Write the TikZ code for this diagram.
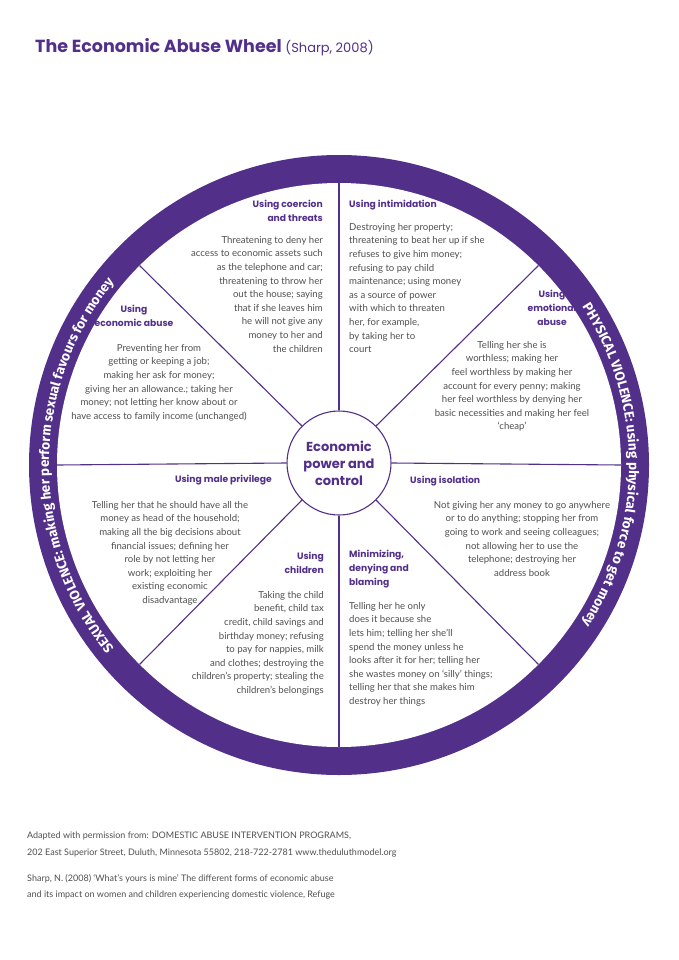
\documentclass[tikz,border=0pt]{standalone}
\usepackage{fontspec}
\setmainfont{Lato}
\newfontfamily\headf{Poppins}
\newfontfamily\ringf{Fira Sans}
\usetikzlibrary{decorations.text,calc}
\definecolor{wpurple}{HTML}{52308A}
\definecolor{wgray}{HTML}{505050}
\begin{document}
\begin{tikzpicture}[x=1pt,y=1pt,
  body/.style={text=wgray,font=\fontsize{9.6}{13.6}\selectfont,inner sep=0pt},
  head/.style={text=wpurple,font=\headf\bfseries\fontsize{9.2}{14}\selectfont,inner sep=0pt},
  spoke/.style={draw=wpurple,line width=1.1pt},
  ringtext/.style={decorate,
    decoration={text along path,text align=center,text color=white,
      text={|\ringf\bfseries\fontsize{13.5}{13.5}\selectfont|#1}}}]
\useasboundingbox (0,0) rectangle (678,-960);
\fill[white] (0,0) rectangle (678,-960);
% title
\node[anchor=base west,inner sep=0pt,text=wpurple] (title) at (35,-53)
  {\headf\bfseries\fontsize{17.5}{20}\selectfont The Economic Abuse Wheel\ \mdseries\fontsize{13}{16}\selectfont(Sharp, 2008)};
% ring
\fill[wpurple] (339,-465) circle (310);
\fill[white] (339,-465) circle (282);
\node[circle,draw=wpurple,line width=1.1pt,fill=white,minimum size=104pt,inner sep=0pt,align=center,
  text=wpurple,font=\headf\bfseries\fontsize{13}{17}\selectfont] (c) at (339,-463) {Economic\\power and\\control};
\foreach \a [count=\i] in {90,45,0,-45,-90,-135,180,135}{
  \coordinate (o\i) at ($(339,-465)+(\a:282)$);
  \draw[spoke] (c.\a) -- (o\i);
}
% ring texts
\path[ringtext={PHYSICAL VIOLENCE: using physical force to get money}]
  (339,-465) ++(60:290) arc[start angle=60,end angle=-60,radius=290];
\path[ringtext={SEXUAL VIOLENCE: making her perform sexual favours for money}]
  (339,-465) ++(243:290) arc[start angle=243,end angle=117,radius=290];
% coercion
\node[head,anchor=north east,align=right] (h1) at (323,-200) {Using coercion\\and threats};
\node[body,anchor=north east,align=right] (b1) at (323,-236) {Threatening to deny her\\access to economic assets such\\as the telephone and car;\\threatening to throw her\\out the house; saying\\that if she leaves him\\he will not give any\\money to her and\\the children};
% intimidation
\node[head,anchor=north west,align=left] (h2) at (349,-200) {Using intimidation};
\node[body,anchor=north west,align=left] (b2) at (349,-223) {Destroying her property;\\threatening to beat her up if she\\refuses to give him money;\\refusing to pay child\\maintenance; using money\\as a source of power\\with which to threaten\\her, for example,\\by taking her to\\court};
% economic abuse
\node[head,anchor=north,align=center] (h3) at (134,-305) {Using\\economic abuse};
\node[body,anchor=north,align=center] (b3) at (159,-344) {Preventing her from\\getting or keeping a job;\\making her ask for money;\\giving her an allowance.; taking her\\money; not letting her know about or\\have access to family income (unchanged)};
% emotional
\node[head,anchor=north,align=center] (h4) at (552,-290) {Using\\emotional\\abuse};
\node[body,anchor=north,align=center] (b4) at (512,-341) {Telling her she is\\worthless; making her\\feel worthless by making her\\account for every penny; making\\her feel worthless by denying her\\basic necessities and making her feel\\`cheap'};
% male privilege
\node[head,anchor=north east] (h5) at (272,-475) {Using male privilege};
\node[body,anchor=north,align=center] (b5) at (170,-501) {Telling her that he should have all the\\money as head of the household;\\making all the big decisions about\\financial issues; defining her\\role by not letting her\\work; exploiting her\\existing economic\\disadvantage};
% isolation
\node[head,anchor=north west] (h6) at (410,-476) {Using isolation};
\node[body,anchor=north,align=center] (b6) at (522,-501) {Not giving her any money to go anywhere\\or to do anything; stopping her from\\going to work and seeing colleagues;\\not allowing her to use the\\telephone; destroying her\\address book};
% children
\node[head,anchor=north east,align=right] (h7) at (324,-552) {Using\\children};
\node[body,anchor=north east,align=right] (b7) at (324,-591) {Taking the child\\benefit, child tax\\credit, child savings and\\birthday money; refusing\\to pay for nappies, milk\\and clothes; destroying the\\children's property; stealing the\\children's belongings};
% minimizing
\node[head,anchor=north west,align=left] (h8) at (349,-550) {Minimizing,\\denying and\\blaming};
\node[body,anchor=north west,align=left] (b8) at (349,-602) {Telling her he only\\does it because she\\lets him; telling her she'll\\spend the money unless he\\looks after it for her; telling her\\she wastes money on `silly' things;\\telling her that she makes him\\destroy her things};
% footer
\node[body,anchor=north west,align=left,font=\fontsize{9}{16.5}\selectfont] (f1) at (27,-832) {Adapted with permission from: DOMESTIC ABUSE INTERVENTION PROGRAMS,\\202 East Superior Street, Duluth, Minnesota 55802, 218-722-2781 www.theduluthmodel.org};
\node[body,anchor=north west,align=left,font=\fontsize{9}{16.5}\selectfont] (f2) at (27,-874) {Sharp, N. (2008) `What's yours is mine' The different forms of economic abuse\\and its impact on women and children experiencing domestic violence, Refuge};
\end{tikzpicture}
\end{document}
